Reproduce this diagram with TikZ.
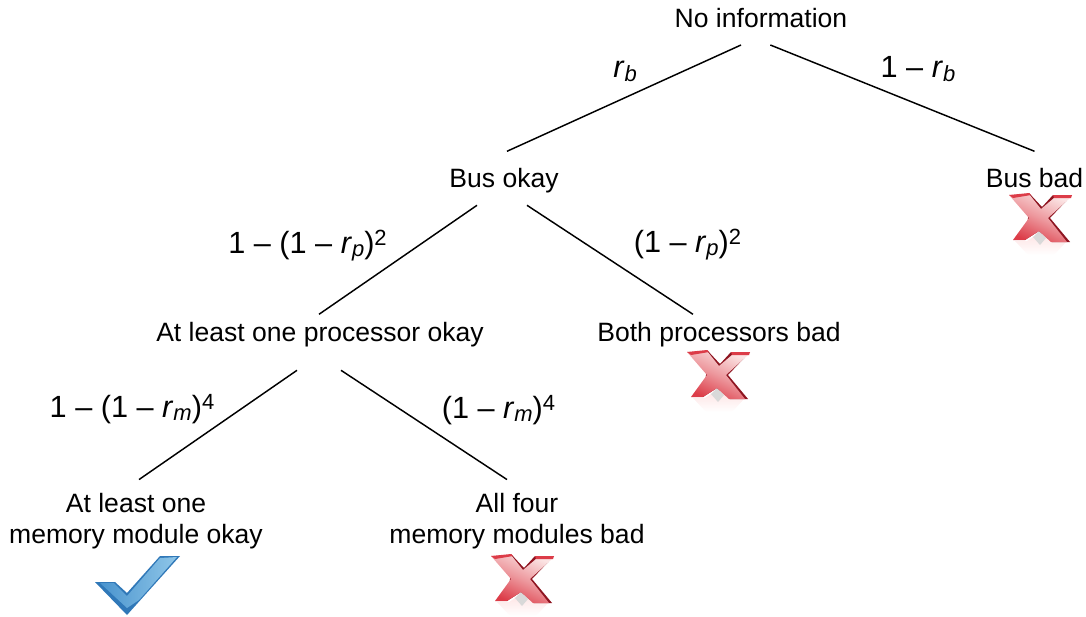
\documentclass[tikz,border=0pt]{standalone}
\usepackage{fontspec}
\setmainfont{Liberation Sans}
\newcommand{\rsub}[1]{\textit{r}\raisebox{-.11em}{\fontsize{16.5}{16.5}\selectfont\textit{#1}}}
\newcommand{\psup}[1]{\raisebox{.25em}{\fontsize{16.5}{16.5}\selectfont #1}}
\definecolor{xlight}{HTML}{FBE4E4}
\definecolor{xmid}{HTML}{DC3C48}
\definecolor{xdark}{HTML}{8E1420}
\definecolor{cklight}{HTML}{8FC6E8}
\definecolor{ckmid}{HTML}{4A94CE}
\definecolor{ckdark}{HTML}{3078B8}
\tikzset{
  treenode/.style={align=center,inner sep=0pt,outer sep=9pt,font=\fontsize{19.9}{23.6}\selectfont},
  oneline/.style={treenode,text height=18.5pt,text depth=2.5pt},
  problabel/.style={inner sep=0pt,anchor=base,font=\fontsize{23}{27}\selectfont},
  branch/.style={line width=1.1pt,black},
  crossmark/.pic={
    \shade[top color=xlight!80!red!40,bottom color=white] (-25,22) -- (-13,22) -- (-1,14) -- (12,22) -- (27,22) -- (14,36) -- (-12,36) -- cycle;
    \fill[black!15] (-1,12) -- (6,19) -- (0,26) -- (-7,18) -- cycle;
    \fill[xdark] (-11,-26) -- (2,-12) -- (13,-24) -- (32,-24) -- (10,-1) -- (30,23) -- (12,23) -- (-1,12) -- (-15,21) -- (-12,-1) -- cycle;
    \shade[top color=xlight,bottom color=xmid,shading angle=-25,middle color=xlight!55!xmid] (-31,-24) -- (-11,-25) -- (1,-10) -- (14,-21) -- (31,-22) -- (8,-1) -- (27,23) -- (11,23) -- (-1,12) -- (-15,21) -- (-27,21) -- (-11,-1) -- cycle;
    \fill[xmid] (13,-24) -- (32,-24) -- (31,-21) -- (14,-21) -- cycle;
    \fill[xmid] (-31,-24) -- (-11,-26) -- (-9,-24) -- (-27,-21) -- cycle;
  },
  checkmark/.pic={
    \fill[ckdark] (-32,-11) -- (-12,-11) -- (0,0) -- (33,-37) -- (53,-37) -- (0,22) -- cycle;
    \shade[left color=ckmid,right color=cklight] (-27,-10) -- (-13,-10) -- (0,3) -- (33,-35) -- (50,-36) -- (12,7) -- (0,15) -- cycle;
  }
}
\begin{document}
\begin{tikzpicture}[x=0.75pt,y=-0.75pt]
\useasboundingbox (0,0) rectangle (1086,617);

\node[oneline] (root) at (761,17) {No information};
\node[oneline] (busok) at (504,177.3) {Bus okay};
\node[oneline] (busbad) at (1034.5,177.3) {Bus bad};
\node[oneline] (procok) at (320,331.3) {At least one processor okay};
\node[oneline] (procbad) at (719,331.3) {Both processors bad};
\node[treenode] (memok) at (136,521) {At least one\\memory module okay};
\node[treenode] (membad) at (517,521) {All four\\memory modules bad};

\draw[branch] ([xshift=-15pt,yshift=-1.5pt]root.south) -- ([xshift=2.25pt]busok.north);
\draw[branch] ([xshift=7pt,yshift=-1.5pt]root.south) -- (busbad.north);
\draw[branch] ([xshift=-20.25pt,yshift=-1.5pt]busok.south) -- ([xshift=-.75pt,yshift=-6.75pt]procok.north);
\draw[branch] ([xshift=17.25pt,yshift=-1.5pt]busok.south) -- ([xshift=-19.5pt,yshift=-6.75pt]procbad.north);
\draw[branch] ([xshift=-17.25pt,yshift=-9.75pt]procok.south) -- ([xshift=2.25pt,yshift=1pt]memok.north);
\draw[branch] ([xshift=15.75pt,yshift=-9.75pt]procok.south) -- ([xshift=-7.5pt,yshift=1pt]membad.north);

\node[problabel] (lb1) at (625,78) {\rsub{b}};
\node[problabel] (lb2) at (918,78) {1 – \rsub{b}};
\node[problabel] (lb3) at (307.5,253) {1 – (1 – \rsub{p})\psup{2}};
\node[problabel] (lb4) at (687.5,252) {(1 – \rsub{p})\psup{2}};
\node[problabel] (lb5) at (132,417) {1 – (1 – \rsub{m})\psup{4}};
\node[problabel] (lb6) at (498.5,418) {(1 – \rsub{m})\psup{4}};

\pic at (1040,219) {crossmark};
\pic at (718,376) {crossmark};
\pic at (522,580) {crossmark};
\pic at (127,593) {checkmark};
\end{tikzpicture}
\end{document}
